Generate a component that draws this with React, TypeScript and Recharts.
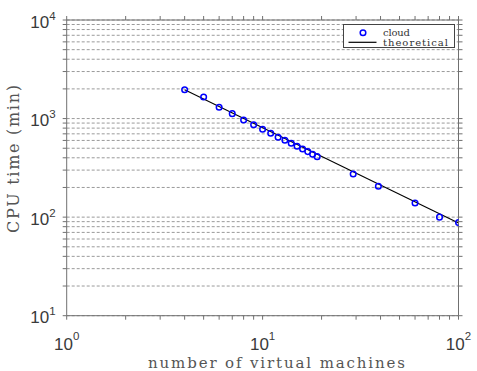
import React from "react"
import { ComposedChart, Scatter, Line, XAxis, YAxis, CartesianGrid, Legend } from "recharts"

// measured runs
const vmCounts = [4, 5, 6, 7, 8, 9, 10, 11, 12, 13, 14, 15, 16, 17, 18, 19, 29, 39, 60, 80, 100]
const cpuMinutes = [1963, 1656, 1303, 1122, 968, 867, 779, 709, 646, 603, 562, 524, 492, 462, 435, 411, 274, 206, 139, 100, 88]

// theoretical curve (straight on log-log)
const theoryVms = [4, 100]
const theoryMinutes = [1960, 87]

const xTicks = [1, 2, 3, 4, 5, 6, 7, 8, 9, 10, 20, 30, 40, 50, 60, 70, 80, 90, 100]
const yTicks = [
  10, 20, 30, 40, 50, 60, 70, 80, 90,
  100, 200, 300, 400, 500, 600, 700, 800, 900,
  1000, 2000, 3000, 4000, 5000, 6000, 7000, 8000, 9000, 10000,
]
const xDecades = [1, 10, 100]
const xExponents = ["0", "1", "2"]
const yDecades = [10, 100, 1000, 10000]
const yExponents = ["1", "2", "3", "4"]

const cloud = vmCounts.map((x, i) => ({ x, y: cpuMinutes[i] }))
const theory = theoryVms.map((x, i) => ({ x, y: theoryMinutes[i] }))

const AXIS = "#707070"
const LABEL = "#3a3a3a"
const TICK_FONT = "Liberation Sans, Arial, sans-serif"
const SERIF = "DejaVu Serif, Liberation Serif, serif"

const BottomTick = (props: any) => {
  const { x, y, payload } = props
  const i = xDecades.indexOf(payload.value)
  return (
    <g>
      <line x1={x} x2={x} y1={y} y2={y + 4} stroke={AXIS} />
      {i >= 0 && (
        <text x={x} y={y + 34} textAnchor="middle" fontFamily={TICK_FONT} fontSize={17} fill={LABEL}>
          <tspan>10</tspan>
          <tspan dy={-10} fontSize={11.5}>{xExponents[i]}</tspan>
        </text>
      )}
    </g>
  )
}

const TopTick = (props: any) => {
  const { x, y } = props
  return <line x1={x} x2={x} y1={y} y2={y - 4} stroke={AXIS} />
}

const LeftTick = (props: any) => {
  const { x, y, payload } = props
  const i = yDecades.indexOf(payload.value)
  return (
    <g>
      <line x1={x - 4} x2={x} y1={y} y2={y} stroke={AXIS} />
      {i >= 0 && (
        <text x={x - 11} y={y + 7.5} textAnchor="end" fontFamily={TICK_FONT} fontSize={17} fill={LABEL}>
          <tspan>10</tspan>
          <tspan dy={-8} fontSize={11.5}>{yExponents[i]}</tspan>
        </text>
      )}
    </g>
  )
}

const RightTick = (props: any) => {
  const { x, y } = props
  return <line x1={x} x2={x + 4} y1={y} y2={y} stroke={AXIS} />
}

const Ring = (props: any) => (
  <circle cx={props.cx} cy={props.cy} r={2.8} fill="none" stroke="#0000ff" strokeWidth={1.5} />
)

const renderLegend = () => (
  <svg width={113} height={25} style={{ display: "block" }}>
    <rect x={0.5} y={0.5} width={111} height={23} fill="#fff" stroke="#444" />
    <circle cx={20} cy={8.7} r={2.8} fill="none" stroke="#0000ff" strokeWidth={1.5} />
    <line x1={5.5} x2={33.5} y1={18.3} y2={18.3} stroke="#000" strokeWidth={1.2} />
    <text x={40} y={12.3} fontFamily={SERIF} fontSize={10} fill="#333" textLength={27} lengthAdjust="spacing">
      cloud
    </text>
    <text x={40} y={22.3} fontFamily={SERIF} fontSize={10} fill="#333" textLength={65} lengthAdjust="spacing">
      theoretical
    </text>
  </svg>
)

const XTitle = () => (
  <text x={276.5} y={367.5} textAnchor="middle" fontFamily={SERIF} fontSize={15} fill="#555"
    textLength={257} lengthAdjust="spacing">
    number of virtual machines
  </text>
)

const YTitle = () => (
  <text x={18.5} y={159} transform="rotate(-90 18.5 159)" textAnchor="middle" fontFamily={SERIF}
    fontSize={16} fill="#555" textLength={148} lengthAdjust="spacing">
    CPU time (min)
  </text>
)

export default function App() {
  return (
    <div style={{ position: "absolute", left: 0, top: 0, width: 477, height: 371, background: "#fff" }}>
      <ComposedChart width={477} height={371} margin={{ top: 0, right: 0, bottom: 0, left: 0 }}>
        <CartesianGrid yAxisId="l" xAxisId="b" vertical={false} stroke="#9a9a9a" strokeDasharray="3 2" />
        <XAxis xAxisId="b" dataKey="x" type="number" scale="log" domain={[1, 100]} allowDataOverflow
          ticks={xTicks} interval={0} tickSize={0} tickMargin={0} height={55.3}
          stroke={AXIS} tick={<BottomTick />} label={{ content: () => <XTitle /> }} />
        <XAxis xAxisId="t" orientation="top" dataKey="x" type="number" scale="log" domain={[1, 100]}
          allowDataOverflow ticks={xTicks} interval={0} tickSize={0} tickMargin={0} height={20}
          stroke={AXIS} tick={<TopTick />} />
        <YAxis yAxisId="l" dataKey="y" type="number" scale="log" domain={[10, 10000]} allowDataOverflow
          ticks={yTicks} interval={0} tickSize={0} tickMargin={0} width={66.7}
          stroke={AXIS} tick={<LeftTick />} label={{ content: () => <YTitle /> }} />
        <YAxis yAxisId="r" orientation="right" dataKey="y" type="number" scale="log" domain={[10, 10000]}
          allowDataOverflow ticks={yTicks} interval={0} tickSize={0} tickMargin={0} width={18.5}
          stroke={AXIS} tick={<RightTick />} />
        <Line xAxisId="b" yAxisId="l" data={theory} dataKey="y" type="linear" stroke="#000"
          strokeWidth={1.1} dot={false} isAnimationActive={false} />
        <Scatter xAxisId="b" yAxisId="l" data={cloud} dataKey="y" shape={<Ring />} isAnimationActive={false} />
        <Legend content={renderLegend} layout="vertical" align="center" verticalAlign="middle"
          wrapperStyle={{ position: "absolute", left: 342.8, top: 23.5, width: 113, height: 25 }} />
      </ComposedChart>
    </div>
  )
}
